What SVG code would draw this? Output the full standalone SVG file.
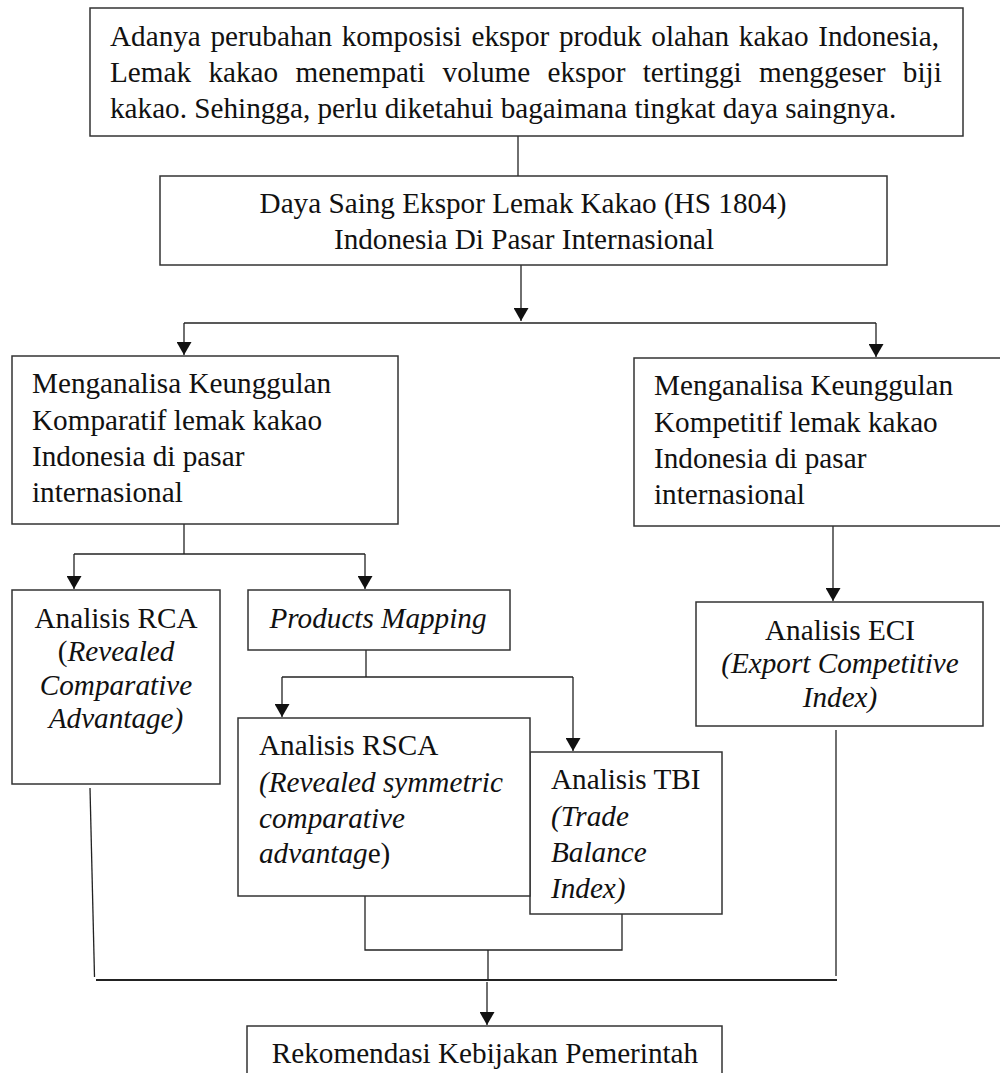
<svg xmlns="http://www.w3.org/2000/svg" width="1000" height="1073" viewBox="0 0 1000 1073">
<style>
.box{fill:#fff;stroke:#333;stroke-width:1.5}
.ln{fill:none;stroke:#222;stroke-width:1.3}
.t{font-family:"Liberation Serif","Times New Roman",serif;font-size:29.2px;fill:#111}
.i{font-style:italic}
.m{text-anchor:middle}
</style>
<defs>
<marker id="ah" viewBox="0 0 13 15" refX="13" refY="7.5" markerWidth="13" markerHeight="15" markerUnits="userSpaceOnUse" orient="auto">
<path d="M0,0 L13,7.5 L0,15 z" fill="#111"/>
</marker>
</defs>
<rect width="1000" height="1073" fill="#fff"/>

<g id="connectors">
<path class="ln" d="M518,136 V176"/>
<path class="ln" d="M521,265 V321" marker-end="url(#ah)"/>
<path class="ln" d="M184,323 H876"/>
<path class="ln" d="M184,323 V355" marker-end="url(#ah)"/>
<path class="ln" d="M876,323 V357" marker-end="url(#ah)"/>
<path class="ln" d="M184,524 V554"/>
<path class="ln" d="M74,554 H365"/>
<path class="ln" d="M74,554 V589" marker-end="url(#ah)"/>
<path class="ln" d="M365,554 V589" marker-end="url(#ah)"/>
<path class="ln" d="M366,650 V677"/>
<path class="ln" d="M282,677 H573"/>
<path class="ln" d="M282,677 V717" marker-end="url(#ah)"/>
<path class="ln" d="M573,677 V751" marker-end="url(#ah)"/>
<path class="ln" d="M833,526 V601" marker-end="url(#ah)"/>
<path class="ln" d="M90,788 L94.5,977"/>
<path class="ln" d="M836,730 V976"/>
<path class="ln" d="M365,896 V950 H622 V914"/>
<path class="ln" d="M488,950 V980"/>
<path class="ln" d="M96,980 H837" style="stroke-width:2"/>
<path class="ln" d="M487,982 V1025" marker-end="url(#ah)"/>
</g>

<g id="n-latar">
<rect class="box" x="90" y="8" width="873" height="128"/>
<text class="t" x="110" y="46" style="word-spacing:2.4px">Adanya perubahan komposisi ekspor produk olahan kakao Indonesia,</text>
<text class="t" x="110" y="82" style="word-spacing:10.1px">Lemak kakao menempati volume ekspor tertinggi menggeser biji</text>
<text class="t" x="110" y="118">kakao. Sehingga, perlu diketahui bagaimana tingkat daya saingnya.</text>
</g>

<g id="n-dayasaing">
<rect class="box" x="160" y="176" width="727" height="89"/>
<text class="t m" x="523" y="213">Daya Saing Ekspor Lemak Kakao (HS 1804)</text>
<text class="t m" x="524" y="249">Indonesia Di Pasar Internasional</text>
</g>

<g id="n-komparatif">
<rect class="box" x="12" y="356" width="386" height="168"/>
<text class="t" x="32" y="393">Menganalisa Keunggulan</text>
<text class="t" x="32" y="430">Komparatif lemak kakao</text>
<text class="t" x="32" y="466">Indonesia di pasar</text>
<text class="t" x="32" y="502">internasional</text>
</g>

<g id="n-kompetitif">
<rect class="box" x="634" y="358" width="370" height="168"/>
<text class="t" x="654" y="395">Menganalisa Keunggulan</text>
<text class="t" x="654" y="432">Kompetitif lemak kakao</text>
<text class="t" x="654" y="468">Indonesia di pasar</text>
<text class="t" x="654" y="504">internasional</text>
</g>

<g id="n-rca">
<rect class="box" x="12" y="590" width="208" height="194"/>
<text class="t m" x="116" y="628">Analisis RCA</text>
<text class="t m" x="116" y="661">(<tspan class="i">Revealed</tspan></text>
<text class="t m i" x="116" y="695">Comparative</text>
<text class="t m i" x="116" y="728">Advantage)</text>
</g>

<g id="n-mapping">
<rect class="box" x="248" y="590" width="262" height="60"/>
<text class="t m i" x="378" y="628">Products Mapping</text>
</g>

<g id="n-tbi">
<rect class="box" x="530" y="752" width="192" height="162"/>
<text class="t" x="551" y="789">Analisis TBI</text>
<text class="t i" x="551" y="826">(Trade</text>
<text class="t i" x="551" y="862">Balance</text>
<text class="t i" x="551" y="898">Index)</text>
</g>

<g id="n-rsca">
<rect class="box" x="238" y="718" width="292" height="178"/>
<text class="t" x="259" y="755">Analisis RSCA</text>
<text class="t i" x="259" y="792">(Revealed symmetric</text>
<text class="t i" x="259" y="828">comparative</text>
<text class="t" x="259" y="863"><tspan class="i">advantag</tspan>e)</text>
</g>

<g id="n-eci">
<rect class="box" x="696" y="602" width="287" height="124"/>
<text class="t m" x="840" y="640">Analisis ECI</text>
<text class="t m i" x="840" y="673">(Export Competitive</text>
<text class="t m i" x="840" y="707">Index)</text>
</g>

<g id="n-rekomendasi">
<rect class="box" x="247" y="1026" width="475" height="60"/>
<text class="t m" x="485" y="1063">Rekomendasi Kebijakan Pemerintah</text>
</g>
</svg>
